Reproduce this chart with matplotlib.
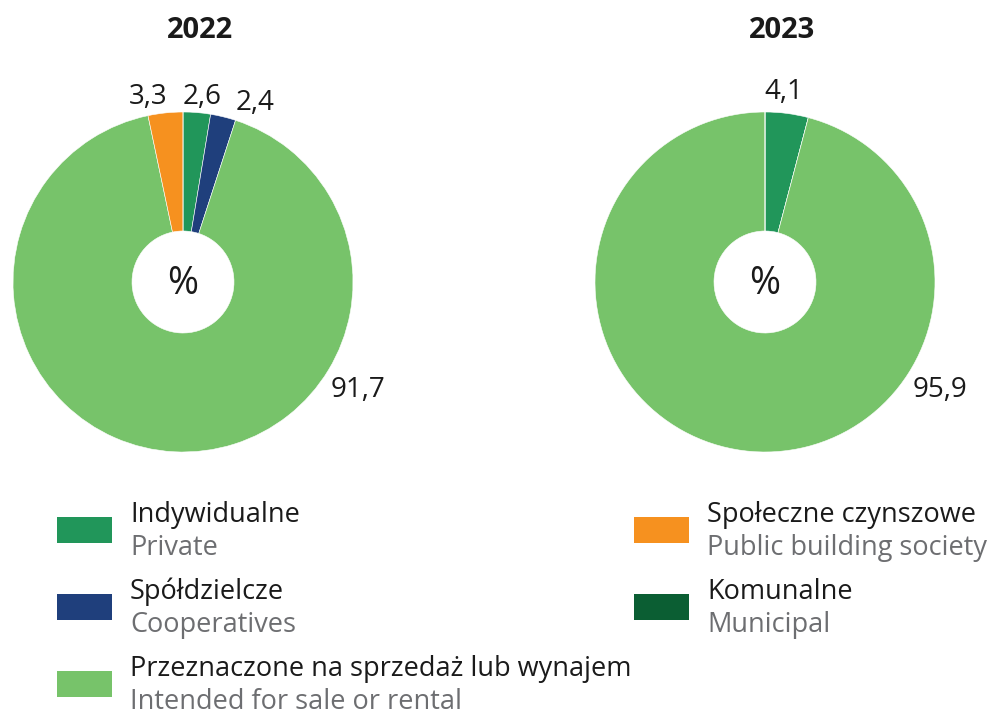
import numpy as np
import matplotlib.pyplot as plt
from matplotlib.patches import Rectangle

plt.rcParams['font.family'] = ['Open Sans', 'DejaVu Sans']

years = ['2022', '2023']
categories = ['Indywidualne', 'Spółdzielcze', 'Przeznaczone na sprzedaż lub wynajem',
              'Społeczne czynszowe', 'Komunalne']
categories_en = ['Private', 'Cooperatives', 'Intended for sale or rental',
                 'Public building society', 'Municipal']
colors = ['#21965a', '#1f3f7c', '#77c36a', '#f6911f', '#0b5e33']
values_2022 = [2.6, 2.4, 91.7, 3.3, 0.0]
values_2023 = [4.1, 0.0, 95.9, 0.0, 0.0]

W, H = 997, 716
fig = plt.figure(figsize=(W / 100, H / 100), dpi=100)

R = 170
centers = [(183, 282), (765, 282)]
# label offsets in data units (radius = 1)
label_pos = {
    '2022': {0: (0.112, 1.088), 1: (0.424, 1.053), 2: (1.03, -0.635), 3: (-0.206, 1.088)},
    '2023': {0: (0.112, 1.118), 2: (1.03, -0.635)},
}

for year, vals, (cx, cy) in zip(years, [values_2022, values_2023], centers):
    ax = fig.add_axes([(cx - R) / W, (H - cy - R) / H, 2 * R / W, 2 * R / H])
    v = np.array(vals)
    ax.pie(v, colors=colors, startangle=90, counterclock=False, radius=1,
           wedgeprops=dict(width=0.7, edgecolor='white', linewidth=0.4))
    ax.set_xlim(-1, 1)
    ax.set_ylim(-1, 1)
    ax.set_aspect('equal')
    ax.axis('off')
    ax.text(0, -0.01, '%', ha='center', va='center', fontsize=27, color='#1a1a1a')
    for i, (lx, ly) in label_pos[year].items():
        ax.text(lx, ly, f'{vals[i]:.1f}'.replace('.', ','), ha='center', va='center',
                fontsize=20, color='#1a1a1a', clip_on=False)
    fig.text((cx + 17) / W, 1 - 30 / H, year, ha='center', va='center',
             fontsize=21, fontweight='bold', color='#1a1a1a')

# legend
lax = fig.add_axes([0, 0, 1, 1])
lax.set_xlim(0, W)
lax.set_ylim(H, 0)
lax.axis('off')
legend_slots = [(57, 530), (57, 607), (57, 684), (634, 530), (634, 607)]
for (x, y), name, name_en, c in zip(legend_slots, categories, categories_en, colors):
    lax.add_patch(Rectangle((x, y - 13), 55, 26, facecolor=c, edgecolor='none'))
    lax.text(x + 73, y - 15, name, ha='left', va='center', fontsize=19.5, color='#1a1a1a')
    lax.text(x + 73, y + 18, name_en, ha='left', va='center', fontsize=19.5, color='#6d6e71')

fig.savefig('out.png', dpi=100)
